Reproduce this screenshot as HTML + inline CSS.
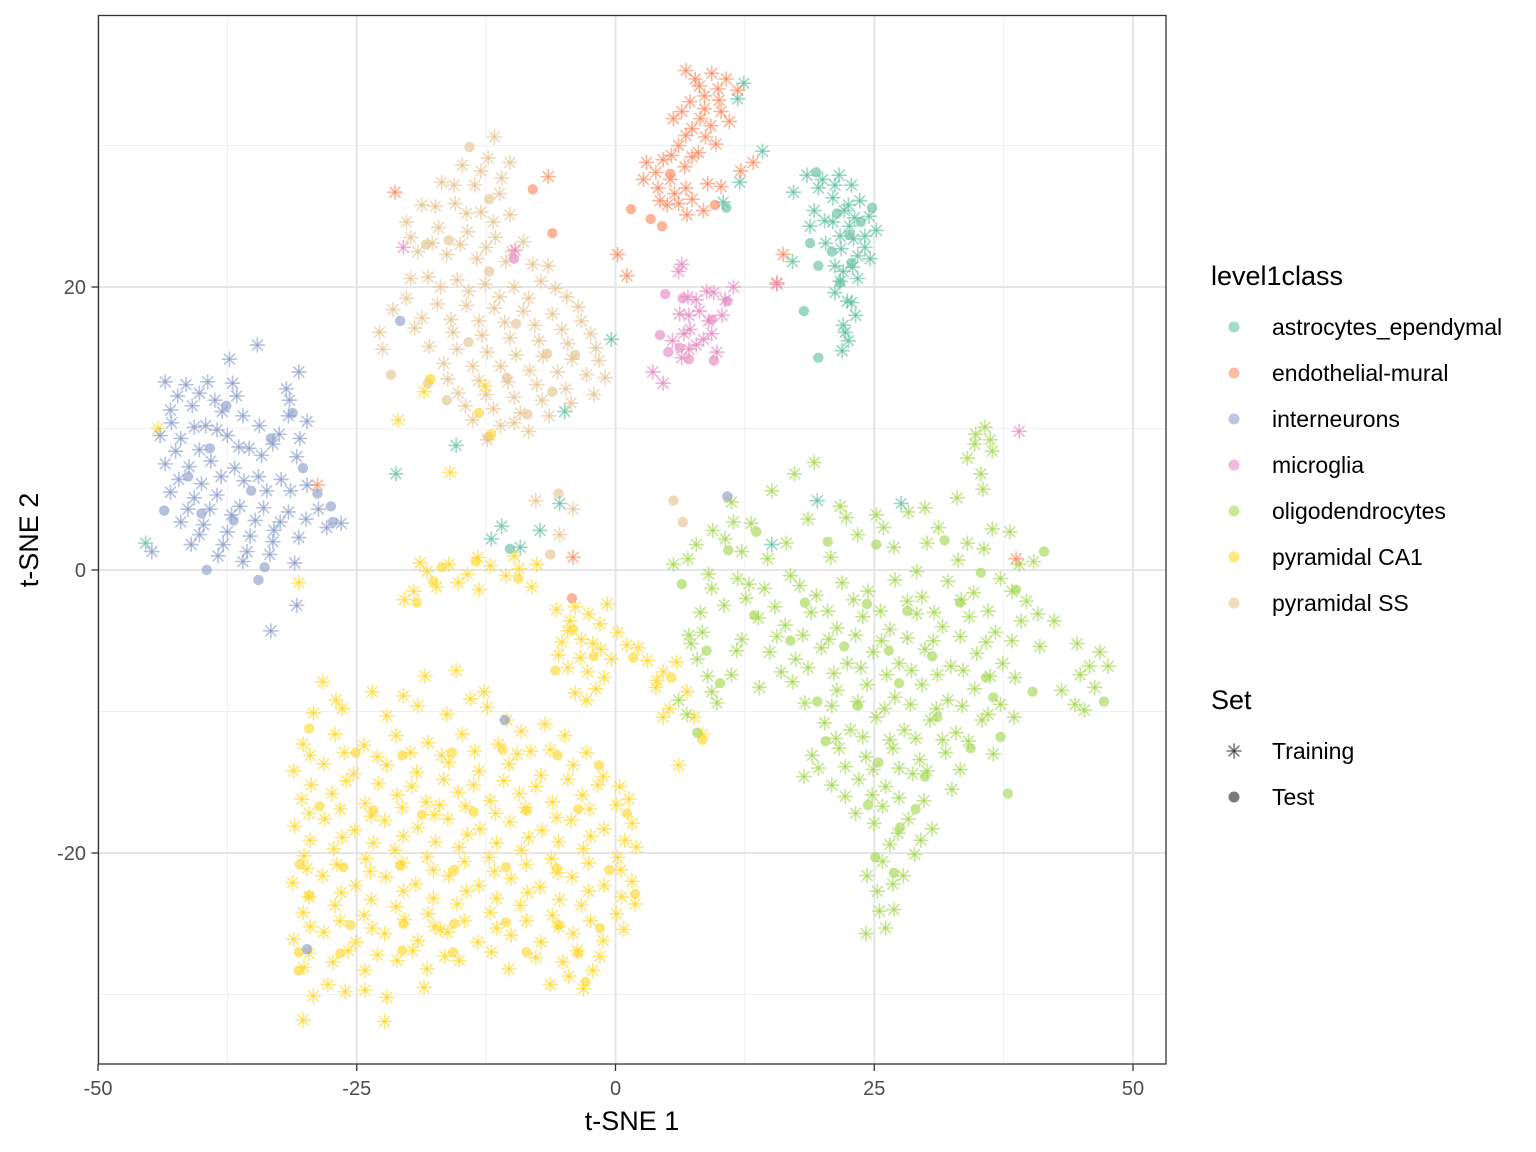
<!DOCTYPE html>
<html><head><meta charset="utf-8"><style>
html,body{margin:0;padding:0;background:#fff;}
svg{display:block;font-family:"Liberation Sans",sans-serif;}
</style></head><body>
<svg id="chart" width="1536" height="1152" viewBox="0 0 1536 1152">
<rect x="0" y="0" width="1536" height="1152" fill="#fff"/>
<g id="grid"></g>
<g id="pts"></g>
<rect x="98.5" y="15.5" width="1067.5" height="1048.5" fill="none" stroke="#333" stroke-width="1.3"/>
<g id="axes"></g>
<text x="632" y="1130" font-size="27" text-anchor="middle" fill="#000">t-SNE 1</text>
<text transform="translate(38,540) rotate(-90)" font-size="27" text-anchor="middle" fill="#000">t-SNE 2</text>
<g id="legend"></g>
</svg>
<script>
const classes = ["astrocytes_ependymal","endothelial-mural","interneurons","microglia","oligodendrocytes","pyramidal CA1","pyramidal SS"];
const colors = ["#66C2A5","#FC8D62","#8DA0CB","#E78AC3","#A6D854","#FFD92F","#E5C494"];
const xTicks = [-50,-25,0,25,50];
const yTicks = [-20,0,20];
const xMinor = [-37.5,-12.5,12.5,37.5];
const yMinor = [-30,-10,10,30];

const astroTrain = [[18.5,27.9],[20,27.6],[21.6,27.9],[22.8,27.2],[21,26.3],[22.5,25.8],[23.6,26.1],[24.5,25],[19.2,25.4],[21,24.6],[22.6,24.3],[24.1,23.6],[25.2,24],[20.3,23.1],[21.8,22.7],[23.4,22.2],[24.6,22],[22,21.1],[23.4,20.6],[21.2,19.6],[22.4,19],[23.2,18],[22,17.3],[22.5,16.2],[21.9,15.5],[17.2,26.7],[18.8,24.3],[17.1,21.8],[11.8,33.3],[12.4,34.4],[14.2,29.6],[12,27.4],[10.4,26],[-12,2.2],[-11,3.1],[-9.2,1.6],[-7.3,2.8],[-5.4,4.7],[-15.4,8.8],[-21.2,6.8],[-0.4,16.3],[-4.9,11.2],[15.1,1.8],[19.5,4.9],[27.6,4.7],[-45.4,1.9]];
const astroTrain2 = [[19.6,27],[21.2,27.2],[22.1,25.4],[23.1,24.9],[20.2,24.7],[21.7,23.6],[23,23.4],[24.1,22.8],[21.2,21.5],[22.9,21.4],[21.7,20.4],[22.8,18.9],[22.2,16.8]];
const astroTest = [[19.4,28.1],[21.4,25.2],[23.7,24.6],[20.9,22.5],[22.6,23.7],[19.6,21.5],[21.7,20.3],[22.8,21.7],[18.2,18.3],[19.6,15],[24.8,25.6],[18.8,23.1],[10.7,25.6],[-10.2,1.5]];
const endoTrain = [[6.8,35.3],[8.1,34.2],[9.3,35.1],[10.7,34.7],[11.8,33.9],[7.2,33.1],[8.6,32.6],[10,33.2],[5.6,31.9],[7.4,31.2],[9.2,31.4],[11,31.7],[6.1,30],[8,29.5],[9.7,30.1],[4.6,29],[6.7,28.5],[3,28.8],[2.7,27.6],[4.1,27],[5.7,26.6],[7.4,26.2],[8.9,27.3],[10.2,27.1],[5,25.8],[6.9,25.1],[8.5,25.4],[12.1,28.2],[13.3,28.8],[0.2,22.3],[1.1,20.8],[16.2,22.3],[15.6,20.3],[38.7,0.8],[-4.1,0.9],[-28.8,6],[-21.3,26.7],[-6.5,27.8]];
const endoTrain2 = [[7.7,34.7],[9.9,34],[8.6,33.5],[6.4,32.4],[8.2,31.9],[10.2,32.4],[6.8,30.7],[8.7,30.6],[5.4,29.3],[7.4,29.2],[3.9,28.1],[5.3,27.6],[6.8,27],[4.3,26.1],[6.1,25.9]];
const endoTest = [[3.4,24.8],[1.5,25.5],[4.5,24.3],[9.6,25.8],[5.3,28],[-8,26.9],[-6.1,23.8],[-4.2,-2]];
const interTrain = [[-43.5,13.3],[-41.5,13.1],[-39.4,13.3],[-37.3,14.9],[-34.6,15.9],[-31.8,12.8],[-30.6,14],[-43,11.3],[-40.9,11.6],[-38.7,12],[-36.6,12.3],[-34.4,10.2],[-31.6,10.9],[-30.5,9.3],[-44,9.5],[-42,9.3],[-39.6,10.2],[-37.5,9.5],[-35.4,8.6],[-33.1,8.9],[-30.8,8],[-43.5,7.5],[-41.2,7.3],[-39.1,7.7],[-36.8,7.2],[-34.5,6.6],[-32.3,6.4],[-29.8,6],[-43,5.5],[-40.7,5.1],[-38.5,5.3],[-36.3,4.5],[-34,4.4],[-31.6,4.1],[-28.7,4.3],[-42,3.4],[-39.8,3.2],[-37.5,2.7],[-35.3,2.4],[-33,2.8],[-30.6,2.3],[-27.9,3],[-41,1.8],[-38.4,1],[-36,0.6],[-33.4,1.1],[-31,0.5],[-44.8,1.3],[-30.8,-2.5],[-33.3,-4.3],[-26.5,3.3]];
const interTrain2 = [[-42.3,12.3],[-40.2,12.5],[-38,11.2],[-36,10.9],[-42.9,10.4],[-40.7,10.1],[-38.5,9.9],[-36.4,8.7],[-34.2,8.1],[-42.5,8.4],[-40.2,8.5],[-38.1,6.6],[-35.9,6.3],[-33.7,5.6],[-31.4,5.6],[-42.2,6.4],[-40,6.1],[-41.3,4.3],[-39.2,4.3],[-37.1,3.9],[-34.8,3.5],[-32.4,3.4],[-29.9,3.6],[-40.2,2.5],[-37.9,1.8],[-35.6,1.3],[-33.1,2],[-31.5,12],[-32.5,9.6],[-29.8,10.5],[-37,13.2]];
const interTest = [[-43.6,4.2],[-41.3,6.6],[-39.2,8.6],[-37.6,11.6],[-35.2,5.6],[-33.3,9.3],[-31.2,11.1],[-28.8,5.4],[-27.5,4.5],[-40,4],[-36.9,3.5],[-33.9,0.2],[-34.5,-0.7],[-30.2,7.2],[-27.3,3.4],[-39.5,0],[-20.8,17.6],[-10.7,-10.6],[10.8,5.2],[-29.8,-26.8]];
const microTrain = [[6.4,21.6],[7.8,19.1],[9.5,19.6],[11.4,20],[6.2,18.1],[8.1,18.3],[10.3,18],[7.2,17],[9.3,16.7],[5.5,16.2],[7.8,15.9],[9.8,15.4],[6.4,15],[3.6,14],[4.6,13.2],[15.6,20.2],[6.1,21.1],[-20.5,22.8],[-9.7,22.6],[39,9.8]];
const microTrain2 = [[7,19.3],[8.8,19.7],[10.6,19.1],[7.1,18],[9,17.6],[6.6,16.7],[8.5,16.3],[7.1,15.6]];
const microTest = [[6.5,19.2],[9.3,17.7],[4.3,16.6],[6.2,15.7],[5.1,15.4],[7.1,14.9],[9.5,14.8],[4.8,19.5],[10.8,19],[-9.8,22]];
const oligoTrain = [[5.6,0.4],[7.8,1.8],[9.4,2.8],[11.2,4.8],[12.2,1.3],[15.1,5.6],[17.3,6.8],[19.2,7.6],[22.3,3.7],[25.9,3],[28.3,4.1],[30.1,1.9],[33.1,0.7],[35.6,1.5],[38.1,2.7],[40.4,0.6],[34.7,8.9],[35.7,10.1],[36.4,8.4],[34,7.9],[35.5,5.7],[9.3,-1.3],[11.8,-0.6],[14.4,-1.3],[16.9,-0.4],[19.4,-1.8],[21.9,-0.9],[24.4,-1.5],[27,-0.7],[29.6,-1.9],[32.1,-0.8],[34.6,-1.6],[37.2,-0.6],[39.7,-2.2],[13.8,-3.4],[16.4,-3.9],[18.9,-3],[21.4,-4.1],[23.9,-3.3],[26.5,-4.2],[29.1,-3.1],[31.6,-4],[34.2,-3.3],[36.7,-4.4],[39.2,-3.6],[42.4,-3.6],[14.9,-5.8],[17.4,-6.3],[19.9,-5.5],[22.4,-6.6],[24.9,-5.8],[27.4,-6.6],[29.9,-5.6],[32.4,-6.8],[34.9,-5.9],[37.4,-6.6],[44.6,-5.2],[45.8,-6.8],[47.6,-6.8],[46.3,-8.3],[44.4,-9.5],[43.1,-8.5],[17.1,-7.9],[21.4,-8.5],[24.3,-8.1],[27,-9],[29.6,-8.1],[32.1,-9.2],[34.7,-8.4],[37.2,-9.5],[20.2,-10.8],[22.7,-11.3],[25.2,-10.4],[27.9,-11.3],[30.4,-10.6],[32.9,-11.5],[35.4,-10.6],[19,-13.1],[21.6,-12.6],[24.2,-13.2],[26.8,-12.6],[29.4,-13.4],[31.9,-12.9],[36.5,-13],[18.2,-14.6],[20.9,-15.2],[23.5,-14.8],[26.1,-15.3],[28.7,-14.4],[32.5,-15.5],[23.2,-17.2],[25.8,-16.7],[28.3,-17.6],[30.6,-18.3],[26.5,-19.4],[28.9,-20.1],[24.3,-21.6],[26.8,-22.2],[25.5,-24.1],[24.2,-25.7],[26.9,-24],[8.2,-3],[7.3,-5.2],[8.9,-7.5],[6.1,-9.2],[9.8,-9.4],[13.9,-8.3],[7.1,-4.6],[11.2,-7.4]];
const oligoTrain2 = [[7,0.8],[9,-0.3],[10.6,2.2],[13.1,3.3],[16.5,1.9],[18.6,3.6],[20.8,0.9],[23.4,2.5],[26.9,1.6],[29.1,-0.1],[31.2,3],[34,1.9],[36.4,2.9],[39,0.4],[10.5,-2.5],[12.6,-2],[15.4,-2.6],[17.8,-1.1],[20.5,-2.9],[23,-2.1],[25.6,-2.9],[28.2,-2.2],[30.8,-3],[33.4,-2.1],[36,-2.9],[38.3,-1.5],[40.8,-3.1],[12.2,-4.9],[15.6,-4.7],[18.1,-4.6],[20.6,-4.9],[23.2,-4.6],[25.7,-5],[28.2,-4.8],[30.7,-5],[33.3,-4.7],[35.8,-5.1],[38.3,-5],[41,-5.4],[16,-7.2],[18.6,-6.9],[21.1,-7.3],[23.7,-6.9],[26.2,-7.4],[28.6,-7.1],[31.1,-7.4],[33.6,-7.1],[36.2,-7.5],[38.6,-7.6],[44.9,-7.4],[46.8,-5.8],[45.3,-9.9],[18.3,-9.4],[20.9,-9.6],[23.4,-9.3],[26,-9.8],[28.5,-9.5],[31,-9.8],[33.5,-9.6],[36,-10.2],[38.5,-10.4],[21.3,-11.9],[23.9,-11.8],[26.5,-12],[29,-11.9],[31.6,-12],[34.1,-12.1],[19.6,-14],[22.2,-13.9],[24.9,-14.1],[27.4,-14],[30.1,-14.2],[33.3,-14.1],[22.2,-16],[24.8,-15.9],[27.4,-16.1],[29.8,-16.3],[25,-17.9],[27.3,-18.6],[29.5,-19.1],[25.8,-20.6],[27.8,-21.6],[25.3,-22.7],[26.1,-25.3],[8.4,-4.4],[7.9,-6.3],[9.3,-8.6],[6.9,-10.2],[11.7,-5.7],[12.9,-1],[14.7,0.8],[11.4,3.4],[21.7,4.5],[25.2,3.9],[29.9,4.4],[33,5.1],[35.3,6.8],[36.2,9.2],[34.8,9.6]];
const oligoTest = [[6.4,-1],[10.9,1.4],[13.6,2.7],[20.5,2],[25.2,1.8],[31.8,2.1],[35.3,-0.2],[41.4,1.3],[18.3,-2.3],[24.3,-2.4],[28.2,-2.9],[33.3,-2.3],[38.7,-1.4],[16.9,-5],[22.1,-5.4],[26.4,-5.7],[30.6,-6.1],[35.8,-7.6],[40.3,-8.6],[47.2,-9.3],[19.5,-9.3],[23.4,-9.6],[27.4,-8],[31.1,-10.4],[34.3,-12.6],[37.2,-11.8],[20.3,-12.1],[25.4,-13.6],[29.9,-14.6],[24.4,-16.6],[29,-16.9],[27.5,-18.2],[25.1,-20.3],[26.9,-21.4],[8.8,-5.7],[10.1,-8],[7.9,-11.5],[13.4,-3.2],[37.9,-15.8],[36.5,-9]];
const ca1Train = [[-28.3,-7.9],[-18.4,-7.5],[-15.4,-7.1],[-12.7,-8.6],[-29.2,-10.1],[-26.4,-9.8],[-22.1,-10.3],[-19.1,-9.6],[-16.3,-10.2],[-12.4,-9.7],[-9.1,-11.4],[-30.2,-12.3],[-27.1,-11.6],[-24.3,-12.4],[-21.2,-11.7],[-18.1,-12.2],[-14.8,-11.6],[-11.3,-12.3],[-8.2,-12.8],[-4.9,-11.7],[-31.1,-14.2],[-28.2,-13.7],[-25.3,-14.4],[-22.1,-13.8],[-19.2,-14.3],[-16.1,-13.6],[-13.2,-14.2],[-10.3,-13.7],[-7.2,-14.5],[-4.1,-13.8],[-1.2,-14.6],[0.4,-15.3],[-30.3,-16.2],[-27.4,-15.8],[-24.2,-16.5],[-21.1,-15.9],[-18.3,-16.4],[-15.2,-15.7],[-12.1,-16.3],[-9.3,-15.8],[-6.1,-16.4],[-3.2,-15.9],[0.1,-16.6],[-31,-18.1],[-28.1,-17.6],[-25.2,-18.4],[-22.3,-17.7],[-19.1,-18.2],[-16.2,-17.6],[-13.1,-18.3],[-10.2,-17.8],[-7.1,-18.4],[-4.3,-17.7],[-1.1,-18.3],[1.6,-17.9],[-30.1,-20.2],[-27.2,-19.7],[-24.1,-20.4],[-21.3,-19.8],[-18.2,-20.3],[-15.1,-19.6],[-12.2,-20.3],[-9.1,-19.8],[-6.2,-20.4],[-3.1,-19.7],[0.2,-20.3],[2,-19.6],[-31.2,-22.1],[-28.3,-21.6],[-25.1,-22.3],[-22.2,-21.7],[-19.3,-22.2],[-16.1,-21.6],[-13.2,-22.3],[-10.1,-21.8],[-7.3,-22.4],[-4.2,-21.7],[-1.1,-22.3],[1.6,-22],[-30.2,-24.2],[-27.1,-23.7],[-24.3,-24.4],[-21.2,-23.8],[-18.1,-24.3],[-15.3,-23.6],[-12.1,-24.2],[-9.2,-23.7],[-6.1,-24.4],[-3.3,-23.7],[0.1,-24.3],[1.9,-23.6],[-31.1,-26.1],[-28.2,-25.6],[-25.1,-26.3],[-22.3,-25.7],[-19.1,-26.2],[-16.2,-25.6],[-13.3,-26.3],[-10.1,-25.8],[-7.2,-26.3],[-4.1,-25.7],[-1.2,-26.2],[-30.1,-28.1],[-27.3,-27.7],[-24.2,-28.3],[-21.1,-27.6],[-18.2,-28.2],[-15.1,-27.6],[-10.3,-28.2],[-5.1,-27.7],[-2.2,-28.3],[-29.2,-30.1],[-26.1,-29.8],[-22.1,-30.2],[-3.1,-29.6],[-30.2,-31.8],[-22.3,-31.9],[-6.3,-29.3],[-18.2,-0.1],[-16.1,0.4],[-14.3,-0.3],[-12.1,0.3],[-17.3,-1.2],[-13.2,-1.4],[-9.3,0.1],[-7.6,0.4],[-8.1,-1.2],[-20.4,-2.1],[-5.7,-2.8],[-4.4,-3.6],[-2.6,-3.1],[-0.8,-2.4],[-5.2,-5.1],[-3.3,-4.9],[-1.4,-5.6],[0.2,-4.4],[-4.6,-6.9],[-2.7,-7.2],[-1.1,-7.6],[-3.9,-8.7],[-1.9,-8.4],[1.1,-5.3],[3.1,-6.4],[4.6,-7.2],[5.9,-6.5],[3.9,-8.3],[6.9,-8.6],[8.4,-11.6],[6.1,-13.8],[4.6,-10.4],[-17,-16.6],[-12.6,13],[-18.5,12.6],[-21,10.6],[-16,6.9],[-44.2,10],[-30.6,-0.9],[-16.9,-25.4]];
const ca1Train2 = [[-27,-9.2],[-23.5,-8.6],[-20.5,-8.9],[-14,-9.1],[-10.5,-10.6],[-6.8,-10.9],[-29.5,-13.1],[-26.2,-12.9],[-23,-13.2],[-19.8,-12.9],[-16.8,-13.1],[-13.6,-12.8],[-9.5,-13],[-6.3,-12.7],[-2.8,-12.9],[-29.4,-15.2],[-26,-14.9],[-22.9,-15.1],[-19.7,-15.3],[-16.6,-14.8],[-13.7,-15.2],[-10.8,-14.9],[-7.7,-15.3],[-4.6,-14.8],[-1.7,-15.2],[1.3,-16.2],[-29.6,-17.2],[-26.6,-16.9],[-23.6,-17.4],[-20.6,-16.8],[-17.5,-17.3],[-14.5,-16.7],[-11.6,-17.2],[-8.7,-16.8],[-5.7,-17.5],[-2.5,-16.9],[-29.5,-19.1],[-26.4,-18.9],[-23.4,-19.3],[-20.5,-18.8],[-17.4,-19.2],[-14.3,-18.7],[-11.5,-19.3],[-8.4,-18.9],[-5.5,-19.2],[-2.4,-18.8],[0.9,-19.1],[-29.8,-21.1],[-26.9,-20.8],[-23.7,-21.3],[-20.6,-20.7],[-17.6,-21.2],[-14.6,-20.6],[-11.7,-21.3],[-8.6,-20.8],[-5.6,-21.4],[-2.6,-20.7],[0.5,-21.2],[-29.6,-23.1],[-26.5,-22.8],[-23.6,-23.3],[-20.5,-22.7],[-17.6,-23.2],[-14.4,-22.7],[-11.5,-23.2],[-8.5,-22.8],[-5.4,-23.3],[-2.6,-22.7],[0.6,-23.1],[-29.5,-25.2],[-26.6,-24.8],[-23.5,-25.3],[-20.4,-24.7],[-17.5,-25.2],[-14.6,-24.8],[-11.5,-25.3],[-8.6,-24.8],[-5.5,-25.2],[-2.4,-24.8],[0.8,-25.4],[-29.6,-27.1],[-25.8,-26.9],[-23,-27.2],[-19.6,-26.9],[-16.5,-27.3],[-12,-27],[-7.7,-27.4],[-3.7,-26.9],[-27.8,-29.3],[-24.2,-29.7],[-18.5,-29.5],[-4.5,-28.7],[-1.5,-27.3],[-18.9,0.5],[-15.2,-0.9],[-13.3,0.9],[-10.6,-0.4],[-9.8,1],[-19.5,-1.5],[-3.9,-2.6],[-1.5,-3.8],[-4.6,-4.3],[-2.2,-5.2],[-0.4,-6.3],[-3.4,-6.2],[-5.5,-6],[-2.8,-9.2],[2.2,-5.5],[4,-7.8],[5.2,-9.8],[7.6,-10.4]];
const ca1Test = [[-29.6,-11.2],[-25.1,-12.9],[-20.6,-13.1],[-15.8,-12.9],[-10.9,-12.7],[-5.6,-13.1],[-1.6,-13.8],[-28.6,-16.7],[-23.4,-17],[-18.7,-17.3],[-13.7,-17.1],[-8.6,-17],[-3.6,-16.9],[1.1,-17.2],[-30.5,-20.8],[-26.3,-21],[-20.8,-20.9],[-15.6,-21.2],[-10.6,-21],[-5.7,-21.1],[-0.6,-21.2],[1.9,-22.9],[-29.6,-23],[-25.6,-25.1],[-20.5,-25],[-15.6,-25],[-10.6,-24.9],[-5.5,-25.1],[-1.5,-25.3],[-30.6,-27],[-26.6,-27.1],[-20.6,-26.9],[-15.7,-27],[-3.6,-27.1],[-30.6,-28.3],[-2.9,-29.1],[-8.6,-27],[-16.8,0.2],[-13.5,0.6],[-9.4,-0.6],[-19.2,-2.3],[-4.1,-4.2],[-2.1,-6.1],[-5.8,-7.1],[1.7,-6.2],[5.4,-7.6],[8.4,-12],[-17.6,-0.8],[-17.9,13.5],[-13.2,11.1],[-12,9.6]];
const ssTrain = [[-11.7,30.6],[-12.3,29.1],[-14.8,28.6],[-10.2,28.8],[-16.8,27.4],[-13.6,27.2],[-11.2,26.6],[-18.7,25.8],[-15.5,25.9],[-13,25.3],[-10.2,25.1],[-20.2,24.6],[-17.1,24.2],[-14.3,23.9],[-11.6,23.5],[-8.9,23.2],[-19.1,22.5],[-16.3,22.3],[-13.4,22],[-10.6,21.8],[-6.5,21.5],[-18.1,20.7],[-15.3,20.5],[-12.6,20.2],[-9.8,20],[-7.2,20.4],[-4.7,19.3],[-20.2,19.2],[-17.2,18.8],[-14.4,18.7],[-11.7,18.5],[-8.9,18.3],[-6.1,18.1],[-3.3,17.6],[-22.8,16.8],[-19.4,17.1],[-15.7,16.8],[-12.9,16.6],[-10.2,16.4],[-7.4,16.2],[-4.6,16],[-1.9,15.7],[-16.6,14.6],[-13.8,14.4],[-11.1,14.4],[-8.3,14.1],[-5.6,14],[-2.8,13.8],[-1.6,14.8],[-15.2,12.5],[-12.5,12.4],[-9.8,12.2],[-7.1,12],[-4.3,11.8],[-13.8,10.6],[-11.1,10.2],[-8.4,9.8],[-22.5,15.6],[-7.7,4.9],[-4.1,4.3],[-5.4,2.5]];
const ssTrain2 = [[-13,28.2],[-11,27.7],[-15.6,27.2],[-17.4,25.7],[-14.4,25.2],[-11.8,24.6],[-19.8,23.5],[-17.7,23.1],[-15,23],[-12.5,22.8],[-10,22.5],[-8,21.6],[-19.8,20.6],[-16.9,20],[-14.2,19.7],[-11.2,19.3],[-8.4,19.2],[-5.8,19.9],[-3.6,18.6],[-21.5,18.4],[-18.7,17.8],[-15.9,17.7],[-13.2,17.6],[-10.7,17.5],[-7.8,17.3],[-5.2,17],[-2.4,16.7],[-18,15.8],[-15.3,15.6],[-12.4,15.4],[-9.6,15.2],[-7,15.1],[-4.2,14.9],[-1,13.6],[-16.2,13.5],[-13.2,13.4],[-10.4,13.3],[-7.6,13.1],[-4.8,12.8],[-2.1,12.4],[-14.5,11.6],[-11.8,11.4],[-9.2,11.1],[-6.4,10.9],[-12.4,9.2],[-9.8,10.4]];
const ssTest = [[-14.1,29.9],[-12.2,26.2],[-16.1,23.3],[-12.2,21.1],[-18.3,23],[-9.6,17.4],[-14.2,16.1],[-6.6,15.3],[-3.9,15.2],[-10.5,13.6],[-6.1,12.6],[-16.3,12],[-8.5,11],[-12.3,9.4],[-21.7,13.8],[-18.1,13.2],[-5.5,5.4],[-6.3,1.1],[6.5,3.4],[5.6,4.9]];

const trainSets=[astroTrain.concat(astroTrain2),endoTrain.concat(endoTrain2),interTrain.concat(interTrain2),microTrain.concat(microTrain2),oligoTrain.concat(oligoTrain2),ca1Train.concat(ca1Train2),ssTrain.concat(ssTrain2)];
const testSets=[astroTest,endoTest,interTest,microTest,oligoTest,ca1Test,ssTest];

const NS='http://www.w3.org/2000/svg';
const X0=98.5,X1=1166,Y0=15.5,Y1=1064;
function sx(v){return 615.5+v*10.35;}
function sy(v){return 570-v*14.15;}
function mk(tag,attrs,parent){const e=document.createElementNS(NS,tag);for(const k in attrs)e.setAttribute(k,attrs[k]);parent.appendChild(e);return e;}

const grid=document.getElementById('grid');
xMinor.forEach(v=>{const l=mk('line',{x1:sx(v),x2:sx(v),y1:Y0,y2:Y1,stroke:'#f0f0f0','stroke-width':1},grid);

});
yMinor.forEach(v=>{const l=mk('line',{x1:X0,x2:X1,y1:sy(v),y2:sy(v),stroke:'#f0f0f0','stroke-width':1},grid);

});
xTicks.forEach(v=>{const l=mk('line',{x1:sx(v),x2:sx(v),y1:Y0,y2:Y1,stroke:'#e6e6e6','stroke-width':2},grid);

});
yTicks.forEach(v=>{const l=mk('line',{x1:X0,x2:X1,y1:sy(v),y2:sy(v),stroke:'#e6e6e6','stroke-width':2},grid);

});

const axes=document.getElementById('axes');
xTicks.forEach(v=>{mk('line',{x1:sx(v),x2:sx(v),y1:Y1,y2:Y1+7,stroke:'#333','stroke-width':1.3},axes);
const t=mk('text',{x:sx(v),y:1095,'font-size':20,'text-anchor':'middle',fill:'#4d4d4d'},axes);t.textContent=v;

});
yTicks.forEach(v=>{mk('line',{x1:X0-7,x2:X0,y1:sy(v),y2:sy(v),stroke:'#333','stroke-width':1.3},axes);
const t=mk('text',{x:86,y:sy(v)+7,'font-size':20,'text-anchor':'end',fill:'#4d4d4d'},axes);t.textContent=v;

});

function star(parent,cx,cy,col,r){
  const g=mk('g',{stroke:col,'stroke-width':1.6,'stroke-opacity':0.65,'stroke-linecap':'round'},parent);
  const d=r*0.707;
  mk('line',{x1:cx,y1:cy-r,x2:cx,y2:cy+r},g);
  mk('line',{x1:cx-r,y1:cy,x2:cx+r,y2:cy},g);
  mk('line',{x1:cx-d,y1:cy-d,x2:cx+d,y2:cy+d},g);
  mk('line',{x1:cx-d,y1:cy+d,x2:cx+d,y2:cy-d},g);
  return g;
}
const pts=document.getElementById('pts');
const order=[6,5,4,0,1,3,2];
order.forEach(i=>{
  trainSets[i].forEach(p=>{const g=star(pts,sx(p[0]),sy(p[1]),colors[i],7);
    
    });
  testSets[i].forEach(p=>{const c=mk('circle',{cx:sx(p[0]),cy:sy(p[1]),r:5.2,fill:colors[i],'fill-opacity':0.65},pts);
    
    });
});

const lg=document.getElementById('legend');
let t=mk('text',{x:1211,y:285,'font-size':27,fill:'#000'},lg);t.textContent='level1class';


classes.forEach((c,i)=>{const y=327+i*46;
  const g=mk('g',{},lg);
  
  
  mk('circle',{cx:1234,cy:y,r:5.5,fill:colors[i],'fill-opacity':0.6},g);
  const tt=mk('text',{x:1272,y:y+8,'font-size':23,fill:'#000'},g);tt.textContent=c;});
t=mk('text',{x:1211,y:709,'font-size':27,fill:'#000'},lg);t.textContent='Set';


let g1=mk('g',{},lg);


star(g1,1234,751,'#333',7);
t=mk('text',{x:1272,y:759,'font-size':23,fill:'#000'},g1);t.textContent='Training';
let g2=mk('g',{},lg);


mk('circle',{cx:1234,cy:797,r:5.5,fill:'#333','fill-opacity':0.65},g2);
t=mk('text',{x:1272,y:805,'font-size':23,fill:'#000'},g2);t.textContent='Test';
</script>
</body></html>
